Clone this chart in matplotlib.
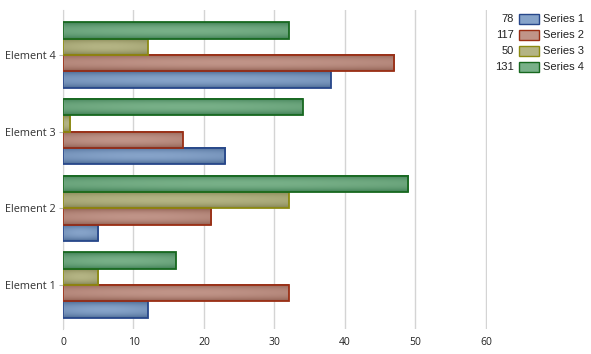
import numpy as np
import matplotlib
matplotlib.use("Agg")
import matplotlib.pyplot as plt
from matplotlib.colors import LinearSegmentedColormap
from matplotlib.patches import Rectangle

# chart data
categories = ["Element 1", "Element 2", "Element 3", "Element 4"]
series_names = ["Series 1", "Series 2", "Series 3", "Series 4"]
series_1 = [12, 5, 23, 38]
series_2 = [32, 21, 17, 47]
series_3 = [5, 32, 1, 12]
series_4 = [16, 49, 34, 32]
x_ticks = [0, 10, 20, 30, 40, 50, 60]

all_series = [series_1, series_2, series_3, series_4]

# (dark, light, edge) per series
styles = [
    ("#46658f", "#86a3c9", "#27478a"),
    ("#8c5c4e", "#c09488", "#9a2e14"),
    ("#7e7e4c", "#b4b484", "#8c8a10"),
    ("#3a7a50", "#78b088", "#17681f"),
]

fig = plt.figure(figsize=(5.91, 3.54), dpi=100)
ax = fig.add_axes([63 / 591, 1 - 329 / 354, (487.4 - 63) / 591, 319 / 354])

bar_h = 0.212
y = np.arange(len(categories))

# vertical gradient: darker at edges, lighter in middle
prof = np.sin(np.linspace(0, np.pi, 32)) ** 0.7
horiz = 0.8 + 0.2 * np.sin(np.linspace(0, np.pi, 64))
grad = prof[:, None] * horiz[None, :]

for i, vals in enumerate(all_series):
    dark, light, edge = styles[i]
    cmap = LinearSegmentedColormap.from_list("s%d" % i, [dark, light])
    off = (i - 1.5) * bar_h
    for yc, v in zip(y, vals):
        y0 = yc + off - bar_h / 2
        ax.imshow(grad, cmap=cmap, vmin=0, vmax=1, aspect="auto",
                  extent=(0, v, y0, y0 + bar_h), origin="lower",
                  interpolation="bilinear", zorder=2)
        ax.add_patch(Rectangle((0, y0), v, bar_h, fill=False,
                               edgecolor=edge, linewidth=1.3, zorder=3))

ax.set_xlim(0, 60.2)
ax.set_ylim(-0.574, 3.587)
ax.set_xticks(x_ticks)
ax.set_yticks(y)
ax.set_yticklabels(categories, family="Open Sans")
ax.grid(axis="x", color="#d4d4d4", linewidth=1, zorder=0)
ax.set_axisbelow(True)
for s in ["top", "right", "bottom"]:
    ax.spines[s].set_visible(False)
ax.spines["left"].set_color("#d4d4d4")
ax.tick_params(axis="x", length=0, labelsize=7.5, labelcolor="#222222", pad=6)
ax.tick_params(axis="y", length=3, color="#bbbbbb", labelsize=7.8,
               labelcolor="#333333", pad=2)
for lbl in ax.get_xticklabels():
    lbl.set_family("Open Sans")

# legend with totals
for i, name in enumerate(series_names):
    dark, light, edge = styles[i]
    yc = 1 - (19 + 16 * i) / 354
    fig.text(514 / 591, yc, str(sum(all_series[i])), ha="right", va="center",
             fontsize=8, family="Liberation Sans", color="#222222")
    fig.patches.append(Rectangle((519 / 591, yc - 4.5 / 354), 20 / 591, 9 / 354,
                                 transform=fig.transFigure, facecolor=light,
                                 edgecolor=edge, linewidth=1))
    fig.text(543 / 591, yc, name, ha="left", va="center",
             fontsize=8, family="Liberation Sans", color="#222222")

fig.savefig("out.png", dpi=100)
